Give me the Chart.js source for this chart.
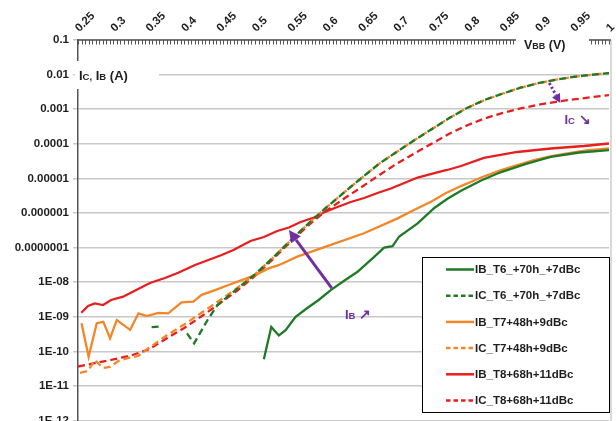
<!DOCTYPE html>
<html>
<head>
<meta charset="utf-8">
<script src="https://cdn.jsdelivr.net/npm/chart.js@4.4.1/dist/chart.umd.min.js"></script>
<style>
html,body{margin:0;padding:0;overflow:hidden;background:#fff;}
#wrap{width:616px;height:440px;}
</style>
</head>
<body>
<div id="wrap"><canvas id="c" width="616" height="440"></canvas></div>
<script>
// ---------- axis ticks ----------
const xTickValues = [0.25,0.3,0.35,0.4,0.45,0.5,0.55,0.6,0.65,0.7,0.75,0.8,0.85,0.9,0.95,1];
const xTickLabels = ['0.25','0.3','0.35','0.4','0.45','0.5','0.55','0.6','0.65','0.7','0.75','0.8','0.85','0.9','0.95','1'];
const yTickValues = [1e-12,1e-11,1e-10,1e-9,1e-8,1e-7,1e-6,1e-5,1e-4,1e-3,1e-2,1e-1];
const yTickLabels = ['1E-12','1E-11','1E-10','1E-09','1E-08','0.0000001','0.000001','0.00001','0.0001','0.001','0.01','0.1'];

// ---------- series ----------
const seriesLabels = ['IB_T6_+70h_+7dBc','IC_T6_+70h_+7dBc','IB_T7+48h+9dBc','IC_T7+48h+9dBc','IB_T8+68h+11dBc','IC_T8+68h+11dBc'];

const vIB6 = [0.5125,0.523,0.5337,0.5432,0.5574,0.5739,0.5899,0.607,0.6254,0.6448,0.6683,0.6824,0.6943,0.7037,0.7297,0.7533,0.7713,0.791,0.8194,0.8467,0.8817,0.9176,0.9582,1.0];
const iIB6 = [5.9e-11,5.1e-10,2.9e-10,4.1e-10,1.0e-9,1.8e-9,3.06e-9,5.9e-9,1.08e-8,2.0e-8,5.4e-8,1.0e-7,1.1e-7,2.1e-7,5.0e-7,1.4e-6,2.54e-6,4.4e-6,8.7e-6,1.5e-5,2.6e-5,4.2e-5,5.6e-5,6.6e-5];

const vIC6 = [0.354,0.364,0.38,0.404,0.414,0.433,0.447,0.475,0.5,0.525,0.55,0.575,0.6,0.625,0.65,0.675,0.7,0.725,0.75,0.775,0.8,0.825,0.85,0.875,0.9,0.925,0.95,0.975,1.0];
const iIC6 = [5.0e-10,5.2e-10,null,3.33e-10,1.71e-10,8.09e-10,2.19e-9,6.48e-9,1.69e-8,5.0e-8,1.6e-7,4.87e-7,1.4e-6,3.79e-6,1.01e-5,2.63e-5,5.8e-5,1.27e-4,2.68e-4,5.64e-4,1.10e-3,1.87e-3,2.84e-3,4.18e-3,5.64e-3,7.12e-3,8.59e-3,9.87e-3,1.11e-2];

const vIB7 = [0.255,0.265,0.2765,0.2858,0.2953,0.3048,0.3237,0.3354,0.3473,0.3633,0.3775,0.3963,0.4129,0.4247,0.4436,0.4625,0.4813,0.5003,0.5191,0.5333,0.5598,0.607,0.654,0.7014,0.7245,0.7486,0.7698,0.791,0.8194,0.8467,0.8704,0.894,0.9171,0.9412,0.9681,1.0];
const iIB7 = [6.5e-10,7e-11,6.5e-10,7.2e-10,2.4e-10,8.1e-10,4.2e-10,1.26e-9,1.05e-9,1.3e-9,1.26e-9,2.6e-9,2.75e-9,4.3e-9,5.9e-9,8.3e-9,1.15e-8,1.6e-8,2.5e-8,3.1e-8,5.5e-8,1.2e-7,2.6e-7,7.0e-7,1.22e-6,2.1e-6,3.79e-6,6.0e-6,1.06e-5,1.7e-5,2.44e-5,3.4e-5,4.3e-5,5.3e-5,6.4e-5,7.4e-5];

const vIC7 = [0.253,0.264,0.274,0.285,0.295,0.307,0.321,0.335,0.35,0.375,0.4,0.425,0.45,0.475,0.5,0.525,0.55,0.575,0.6,0.625,0.65,0.675,0.7,0.725,0.75,0.775,0.8,0.825,0.85,0.875,0.9,0.925,0.95,0.975,1.0];
const iIC7 = [2.38e-11,2.72e-11,5.6e-11,3.31e-11,3.54e-11,5.28e-11,6.45e-11,7.36e-11,1.25e-10,2.88e-10,5.99e-10,1.33e-9,2.96e-9,6.79e-9,1.69e-8,5.0e-8,1.6e-7,4.87e-7,1.4e-6,3.79e-6,1.01e-5,2.63e-5,5.8e-5,1.27e-4,2.68e-4,5.64e-4,1.10e-3,1.87e-3,2.84e-3,4.18e-3,5.64e-3,7.12e-3,8.59e-3,9.87e-3,1.11e-2];

const vIB8 = [0.2547,0.2642,0.2737,0.2854,0.2967,0.3137,0.3322,0.3516,0.3728,0.3916,0.4153,0.4341,0.453,0.4695,0.4936,0.5125,0.5314,0.5479,0.5645,0.5833,0.5998,0.6164,0.6353,0.6541,0.673,0.6919,0.7108,0.7297,0.7533,0.7713,0.7911,0.8232,0.8704,0.9176,0.9649,1.0];
const iIB8 = [1.31e-9,2.05e-9,2.45e-9,2.19e-9,3.06e-9,3.81e-9,5.96e-9,9.48e-9,1.32e-8,1.88e-8,3.14e-8,4.38e-8,6.11e-8,8.53e-8,1.55e-7,2.02e-7,3.02e-7,3.81e-7,5.49e-7,7.41e-7,1.10e-6,1.49e-6,2.08e-6,2.71e-6,3.79e-6,5.11e-6,7.36e-6,1.06e-5,1.43e-5,1.75e-5,2.28e-5,3.89e-5,5.80e-5,7.31e-5,8.63e-5,1.02e-4];

const vIC8 = [0.25,0.275,0.3,0.325,0.35,0.375,0.4,0.425,0.45,0.475,0.5,0.525,0.55,0.575,0.6,0.625,0.65,0.675,0.7,0.725,0.75,0.775,0.8,0.825,0.85,0.875,0.9,0.925,0.95,0.975,1.0];
const iIC8 = [3.66e-11,4.63e-11,5.84e-11,7.62e-11,1.14e-10,2.36e-10,4.75e-10,1.05e-9,2.42e-9,5.75e-9,1.51e-8,4.53e-8,1.45e-7,4.35e-7,1.14e-6,2.54e-6,5.53e-6,1.23e-5,2.64e-5,5.25e-5,1.02e-4,1.99e-4,3.45e-4,5.46e-4,7.87e-4,1.05e-3,1.34e-3,1.64e-3,1.91e-3,2.22e-3,2.57e-3];

// ---------- annotations (data coordinates) ----------
const ibArrowV = [0.6084, 0.5479];
const ibArrowI = [6.7e-9, 3.2e-7];
const icArrowV = [0.9157, 0.9313];
const icArrowI = [5.7e-3, 1.5e-3];
const noteV = [0.627, 0.937];
const noteI = [1.2e-9, 5.2e-4];

const GREEN = '#1f7a26', ORANGE = '#f4862a', RED = '#e61e1e', PURPLE = '#7030a0', TXT = '#1e1e1e';
const FONT = "'Liberation Sans', Arial, sans-serif";

function pts(xs, ys) { return xs.map((x, i) => ({x: x, y: ys[i]})); }

const seriesV = [vIB6, vIC6, vIB7, vIC7, vIB8, vIC8];
const seriesI = [iIB6, iIC6, iIB7, iIC7, iIB8, iIC8];
const seriesColor = [GREEN, GREEN, ORANGE, ORANGE, RED, RED];
const seriesDashed = [false, true, false, true, false, true];

const datasets = seriesLabels.map((lab, k) => ({
  label: lab,
  data: pts(seriesV[k], seriesI[k]),
  borderColor: seriesColor[k],
  backgroundColor: seriesColor[k],
  borderWidth: 2.3,
  borderDash: seriesDashed[k] ? [7, 4] : [],
  pointRadius: 0,
  tension: 0,
  spanGaps: false,
  fill: false
}));

function richText(ctx, parts, x, y, color) {
  ctx.fillStyle = color;
  ctx.textBaseline = 'alphabetic';
  ctx.textAlign = 'left';
  let cx = x;
  for (const [t, s] of parts) {
    ctx.font = 'bold ' + s + 'px ' + FONT;
    ctx.fillText(t, cx, y);
    cx += ctx.measureText(t).width;
  }
}

function arrow(ctx, x0, y0, x1, y1, width, head, dash, color) {
  const dx = x1 - x0, dy = y1 - y0, L = Math.hypot(dx, dy);
  const ux = dx / L, uy = dy / L;
  const bx = x1 - ux * head, by = y1 - uy * head;
  ctx.save();
  ctx.strokeStyle = color; ctx.fillStyle = color;
  ctx.lineWidth = width;
  ctx.setLineDash(dash);
  ctx.beginPath(); ctx.moveTo(x0, y0); ctx.lineTo(bx, by); ctx.stroke();
  ctx.setLineDash([]);
  ctx.beginPath();
  ctx.moveTo(x1, y1);
  ctx.lineTo(bx - uy * head * 0.5, by + ux * head * 0.5);
  ctx.lineTo(bx + uy * head * 0.5, by - ux * head * 0.5);
  ctx.closePath(); ctx.fill();
  ctx.restore();
}

const decor = {
  id: 'decor',
  afterDraw(chart) {
    const ctx = chart.ctx, a = chart.chartArea, xs = chart.scales.x, ys = chart.scales.y;
    ctx.save();
    // right border
    ctx.strokeStyle = '#cccccc'; ctx.lineWidth = 1.5;
    ctx.beginPath(); ctx.moveTo(a.right + 2, a.top); ctx.lineTo(a.right + 2, chart.height); ctx.stroke();
    // top axis line + minor ticks
    ctx.strokeStyle = '#555555'; ctx.lineWidth = 1.5;
    ctx.beginPath(); ctx.moveTo(a.left - 0.5, a.top); ctx.lineTo(a.right + 2, a.top); ctx.stroke();
    ctx.lineWidth = 1;
    ctx.beginPath();
    for (let k = 0; k <= 150; k++) {
      const px = Math.round(xs.getPixelForValue(0.25 + k * 0.005)) + 0.5;
      ctx.moveTo(px, a.top); ctx.lineTo(px, a.top + 4.5);
    }
    ctx.stroke();
    // title boxes
    ctx.fillStyle = '#ffffff';
    ctx.fillRect(a.left - 3, 61, 84, 28);
    ctx.fillRect(516, 33, 73, 19);
    richText(ctx, [['I', 13], ['C,', 9.5], [' I', 13], ['B', 9.5], [' (A)', 13]], a.left + 1, 80, TXT);
    richText(ctx, [['V', 12.5], ['BB', 9], [' (V)', 12.5]], 524, 49, TXT);

    // purple annotations
    const p = (v, i) => [xs.getPixelForValue(v), ys.getPixelForValue(i)];
    const s1 = p(ibArrowV[0], ibArrowI[0]), t1 = p(ibArrowV[1], ibArrowI[1]);
    arrow(ctx, s1[0], s1[1], t1[0], t1[1], 3, 12, [], PURPLE);
    const s2 = p(icArrowV[0], icArrowI[0]), t2 = p(icArrowV[1], icArrowI[1]);
    arrow(ctx, s2[0], s2[1], t2[0], t2[1], 3, 9, [2.2, 2.2], PURPLE);
    const n1 = p(noteV[0], noteI[0]), n2 = p(noteV[1], noteI[1]);
    richText(ctx, [['I', 13], ['B', 9.5], [' \u2197', 14]], n1[0], n1[1] + 5, PURPLE);
    richText(ctx, [['I', 13], ['C', 9.5], [' \u2198', 14]], n2[0], n2[1] + 5, PURPLE);

    // legend
    const lx = 422.5, ly = 257.5, lw = 187, lh = 155;
    ctx.fillStyle = '#ffffff'; ctx.fillRect(lx, ly, lw, lh);
    ctx.strokeStyle = '#000000'; ctx.lineWidth = 1; ctx.strokeRect(lx, ly, lw, lh);
    chart.data.datasets.forEach((ds, k) => {
      const ry = 269.5 + k * 26.2;
      ctx.strokeStyle = ds.borderColor; ctx.lineWidth = 2.5;
      ctx.setLineDash(ds.borderDash.length ? [4.5, 3] : []);
      ctx.beginPath(); ctx.moveTo(446, ry); ctx.lineTo(474, ry); ctx.stroke();
      ctx.setLineDash([]);
      ctx.fillStyle = TXT; ctx.font = 'bold 11.5px ' + FONT;
      ctx.textBaseline = 'middle'; ctx.textAlign = 'left';
      ctx.fillText(ds.label, 475, ry + 0.5);
    });
    ctx.restore();
  }
};

new Chart(document.getElementById('c'), {
  type: 'line',
  data: { datasets: datasets },
  options: {
    responsive: false,
    animation: false,
    devicePixelRatio: 1,
    layout: { autoPadding: false, padding: { left: 0, top: 0, right: 7, bottom: 19.4 } },
    plugins: { legend: { display: false }, tooltip: { enabled: false } },
    scales: {
      x: {
        type: 'linear', position: 'top', min: 0.25, max: 1,
        afterBuildTicks: s => { s.ticks = xTickValues.map(v => ({ value: v })); },
        afterFit: s => { s.height = 40; s.paddingLeft = 0; s.paddingRight = 0; },
        grid: { display: false, drawTicks: false },
        border: { display: false },
        ticks: {
          autoSkip: false, minRotation: 45, maxRotation: 45, padding: 5, labelOffset: 9,
          color: TXT, font: { family: FONT, size: 11.5, weight: 'bold' },
          callback: (v, i) => xTickLabels[i]
        }
      },
      y: {
        type: 'logarithmic', min: 1e-12, max: 0.1,
        afterBuildTicks: s => { s.ticks = yTickValues.map(v => ({ value: v })); },
        afterFit: s => { s.width = 78; s.paddingTop = 0; s.paddingBottom = 0; },
        grid: { color: '#c8c8c8', lineWidth: 1.5, tickLength: 5, drawTicks: true },
        border: { display: true, color: '#555555', width: 1.5 },
        ticks: {
          autoSkip: false, padding: 4,
          color: TXT, font: { family: FONT, size: 11.5, weight: 'bold' },
          callback: (v, i) => yTickLabels[i]
        }
      }
    }
  },
  plugins: [decor]
});
</script>
</body>
</html>
